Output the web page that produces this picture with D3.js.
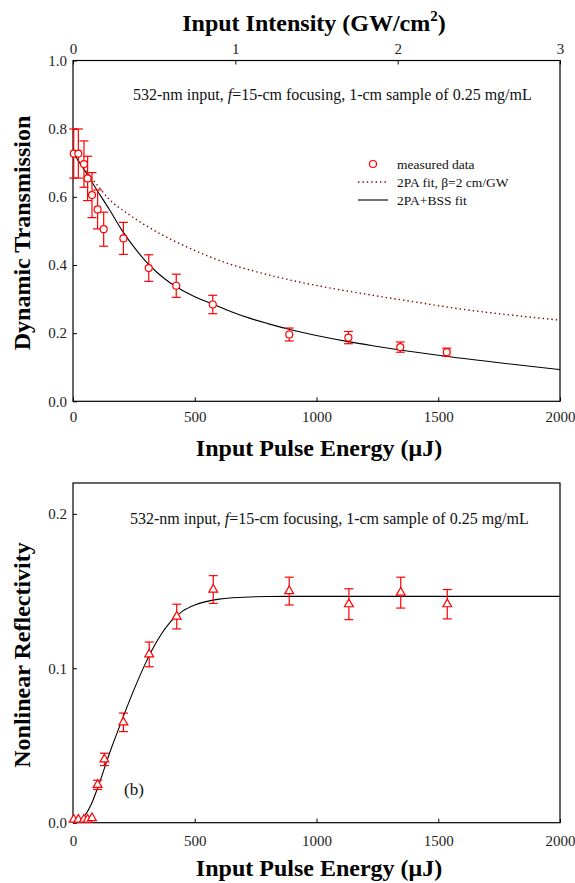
<!DOCTYPE html>
<html><head><meta charset="utf-8">
<script src="https://cdn.jsdelivr.net/npm/d3@7"></script>
<style>
html,body{margin:0;padding:0;background:#fff;}
svg{display:block;font-family:"Liberation Serif","Times New Roman",serif;}
</style></head>
<body>
<svg id="c" width="575" height="883"></svg>
<script>
// ---------- data ----------
const energyT = [3, 22, 45, 60, 78, 101, 126, 207, 311, 424, 574, 888, 1131, 1344, 1535];
const transT  = [0.727, 0.727, 0.696, 0.654, 0.605, 0.563, 0.505, 0.478, 0.391, 0.339, 0.284, 0.196, 0.187, 0.159, 0.144];
const errT    = [0.072, 0.072, 0.068, 0.065, 0.066, 0.057, 0.05, 0.047, 0.039, 0.034, 0.027, 0.019, 0.018, 0.015, 0.012];

const fitBssE = [0, 50, 100, 150, 200, 250, 300, 350, 400, 450, 500, 575, 650, 725, 800, 900, 1000, 1130, 1250, 1350, 1500, 1750, 2000];
const fitBssT = [0.73, 0.675, 0.618, 0.562, 0.503, 0.453, 0.41, 0.375, 0.347, 0.325, 0.307, 0.285, 0.263, 0.244, 0.228, 0.209, 0.193, 0.175, 0.161, 0.150, 0.135, 0.113, 0.093];

const fit2paE = [0, 40, 83, 150, 234, 344, 480, 617, 754, 891, 1028, 1206, 1400, 1600, 1800, 2000];
const fit2paT = [0.73, 0.688, 0.649, 0.592, 0.546, 0.497, 0.449, 0.409, 0.380, 0.356, 0.336, 0.314, 0.292, 0.270, 0.253, 0.238];

const energyR = [3, 22, 45, 60, 78, 101, 129, 207, 313, 426, 576, 888, 1133, 1346, 1537];
const reflR   = [0.002, 0.002, 0.002, 0.002, 0.003, 0.0245, 0.041, 0.065, 0.109, 0.1335, 0.151, 0.150, 0.1415, 0.149, 0.1415];
const errR    = [0, 0, 0, 0, 0, 0.003, 0.004, 0.006, 0.008, 0.008, 0.009, 0.009, 0.010, 0.010, 0.0095];

const fitRE = [0, 25, 50, 75, 100, 150, 200, 250, 300, 350, 400, 450, 500, 600, 700, 800, 1000, 2000];
const fitRV = [0, 0.001, 0.005, 0.012, 0.022, 0.045, 0.066, 0.086, 0.104, 0.119, 0.130, 0.137, 0.141, 0.1448, 0.146, 0.1465, 0.1466, 0.1466];

const xTicks = [0, 500, 1000, 1500, 2000];
const topTicks = [0, 1, 2, 3];
const yTicksT = [0, 0.2, 0.4, 0.6, 0.8, 1.0];
const yTicksR = [0, 0.1, 0.2];

const annotation = ["532-nm input, ", "f", "=15-cm focusing, 1-cm sample of 0.25 mg/mL"];
const legendLabels = ["measured data", "2PA fit, \u03B2=2 cm/GW", "2PA+BSS fit"];

// ---------- layout ----------
const svg = d3.select("#c");
const L = 73, R = 560;
const T1 = 60.5, B1 = 401.3;
const T2 = 483, B2 = 822.7;
const red = "#ff0000", darkred = "#8b0000";
const tickFont = 15;
const titleFont = 24;

const x1 = d3.scaleLinear().domain([0, 2000]).range([L, R]);
const xTop = d3.scaleLinear().domain([0, 3]).range([L, R]);
const y1 = d3.scaleLinear().domain([0, 1]).range([B1, T1]);
const x2 = d3.scaleLinear().domain([0, 2000]).range([L, R]);
const y2 = d3.scaleLinear().domain([0, 0.22]).range([B2, T2]);

function styleAxis(g) {
  g.select(".domain").remove();
  g.selectAll("line").attr("stroke", "#000").attr("stroke-width", 1);
  g.selectAll("text").attr("font-size", tickFont).attr("fill", "#222")
   .attr("font-family", "Liberation Serif");
}

function frame(top, bottom) {
  svg.append("rect").attr("x", L).attr("y", top).attr("width", R - L).attr("height", bottom - top)
    .attr("fill", "none").attr("stroke", "#000").attr("stroke-width", 1.2);
}

// ===== Top chart =====
frame(T1, B1);
svg.append("g").attr("transform", `translate(0,${B1})`)
  .call(d3.axisBottom(x1).tickValues(xTicks).tickSizeInner(-4).tickSizeOuter(0).tickPadding(10).tickFormat(d3.format("d")))
  .call(styleAxis);
svg.append("g").attr("transform", `translate(0,${T1})`)
  .call(d3.axisTop(xTop).tickValues(topTicks).tickSizeInner(-4).tickSizeOuter(0).tickPadding(7).tickFormat(d3.format("d")))
  .call(styleAxis);
svg.append("g").attr("transform", `translate(${L},0)`)
  .call(d3.axisLeft(y1).tickValues(yTicksT).tickSizeInner(-4).tickSizeOuter(0).tickPadding(6).tickFormat(d3.format(".1f")))
  .call(styleAxis);

// fit lines
const lineT = d3.line().curve(d3.curveMonotoneX);
svg.append("path")
  .attr("d", lineT(fit2paE.map((e, i) => [x1(e), y1(fit2paT[i])])))
  .attr("fill", "none").attr("stroke", darkred).attr("stroke-width", 1.4).attr("stroke-dasharray", "1.4,3");
svg.append("path")
  .attr("d", lineT(fitBssE.map((e, i) => [x1(e), y1(fitBssT[i])])))
  .attr("fill", "none").attr("stroke", "#000").attr("stroke-width", 1.1);

// error bars
function errorBars(xs, ys, es, xsc, ysc) {
  const g = svg.append("g").attr("stroke", red).attr("stroke-width", 1.2);
  xs.forEach((e, i) => {
    if (!es[i]) return;
    const cx = xsc(e), t = ysc(ys[i] + es[i]), b = ysc(ys[i] - es[i]);
    g.append("line").attr("x1", cx).attr("x2", cx).attr("y1", t).attr("y2", b);
    g.append("line").attr("x1", cx - 4.5).attr("x2", cx + 4.5).attr("y1", t).attr("y2", t);
    g.append("line").attr("x1", cx - 4.5).attr("x2", cx + 4.5).attr("y1", b).attr("y2", b);
  });
}
errorBars(energyT, transT, errT, x1, y1);
svg.append("g").selectAll("circle").data(energyT).join("circle")
  .attr("cx", d => x1(d)).attr("cy", (d, i) => y1(transT[i])).attr("r", 3.5)
  .attr("fill", "#fff").attr("stroke", red).attr("stroke-width", 1.2);

// annotation
function annot(xp, yp) {
  const t = svg.append("text").attr("x", xp).attr("y", yp).attr("font-size", 16).attr("fill", "#111");
  t.append("tspan").text(annotation[0]);
  t.append("tspan").attr("font-style", "italic").text(annotation[1]);
  t.append("tspan").text(annotation[2]);
}
annot(133, 100);

// legend
const lg = svg.append("g");
lg.append("circle").attr("cx", 373).attr("cy", 164).attr("r", 3.5).attr("fill", "#fff").attr("stroke", red).attr("stroke-width", 1.2);
lg.append("line").attr("x1", 358).attr("x2", 387).attr("y1", 182).attr("y2", 182)
  .attr("stroke", darkred).attr("stroke-width", 1.4).attr("stroke-dasharray", "1.4,3");
lg.append("line").attr("x1", 358).attr("x2", 388).attr("y1", 200).attr("y2", 200)
  .attr("stroke", "#000").attr("stroke-width", 1.1);
legendLabels.forEach((s, i) => {
  lg.append("text").attr("x", 397).attr("y", 168.5 + 18 * i).attr("font-size", 13.5).attr("fill", "#111").text(s);
});

// titles
const tt = svg.append("text").attr("x", 314).attr("y", 30.5).attr("text-anchor", "middle")
  .attr("font-size", titleFont).attr("font-weight", "bold").attr("fill", "#000");
tt.append("tspan").text("Input Intensity (GW/cm");
tt.append("tspan").attr("font-size", 15).attr("dy", -10).text("2");
tt.append("tspan").attr("dy", 10).text(")");

svg.append("text").attr("x", 319).attr("y", 455.5).attr("text-anchor", "middle")
  .attr("font-size", titleFont).attr("font-weight", "bold").text("Input Pulse Energy (\u03BCJ)");
svg.append("text").attr("transform", "translate(30,233) rotate(-90)").attr("text-anchor", "middle")
  .attr("font-size", titleFont).attr("font-weight", "bold").text("Dynamic Transmission");

// ===== Bottom chart =====
frame(T2, B2);
svg.append("g").attr("transform", `translate(0,${B2})`)
  .call(d3.axisBottom(x2).tickValues(xTicks).tickSizeInner(-4).tickSizeOuter(0).tickPadding(13).tickFormat(d3.format("d")))
  .call(styleAxis);
svg.append("g").attr("transform", `translate(${L},0)`)
  .call(d3.axisLeft(y2).tickValues(yTicksR).tickSizeInner(-4).tickSizeOuter(0).tickPadding(6).tickFormat(d3.format(".1f")))
  .call(styleAxis);

svg.append("path")
  .attr("d", lineT(fitRE.map((e, i) => [x2(e), y2(fitRV[i])])))
  .attr("fill", "none").attr("stroke", "#000").attr("stroke-width", 1.1);

errorBars(energyR, reflR, errR, x2, y2);
const tri = d3.symbol().type(d3.symbolTriangle).size(34);
svg.append("g").selectAll("path.tri").data(energyR).join("path")
  .attr("transform", (d, i) => `translate(${x2(d)},${y2(reflR[i])})`)
  .attr("d", tri).attr("fill", "#fff").attr("stroke", red).attr("stroke-width", 1.2);

annot(130, 524);
svg.append("text").attr("x", 124).attr("y", 795).attr("font-size", 17).attr("fill", "#111").text("(b)");

svg.append("text").attr("x", 319).attr("y", 876).attr("text-anchor", "middle")
  .attr("font-size", titleFont).attr("font-weight", "bold").text("Input Pulse Energy (\u03BCJ)");
svg.append("text").attr("transform", "translate(30,655) rotate(-90)").attr("text-anchor", "middle")
  .attr("font-size", titleFont).attr("font-weight", "bold").text("Nonlinear Reflectivity");
</script>
</body></html>
